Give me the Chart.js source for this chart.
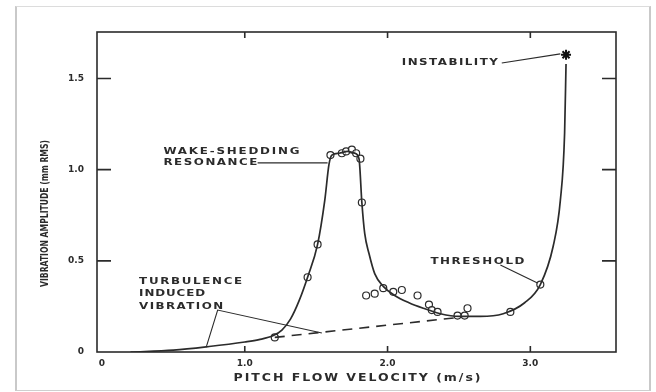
<!DOCTYPE html>
<html>
<head>
<meta charset="utf-8">
<script src="https://cdn.jsdelivr.net/npm/chart.js@4.4.1/dist/chart.umd.min.js"></script>
<style>
  html, body { margin: 0; padding: 0; background: #fff; }
  #wrap { position: relative; width: 656px; height: 392px; overflow: hidden; }
  #chart { position: absolute; left: 0; top: 0; filter: blur(0.45px); }
  #frame {
    position: absolute; left: 15px; top: 6px; width: 632px; height: 383px;
    border-left: 2px solid #c9c9c9; border-right: 2px solid #c9c9c9;
    border-top: 1px solid #dcdcdc; border-bottom: 1px solid #cfcfcf;
    pointer-events: none;
  }
</style>
</head>
<body>
<div id="wrap">
  <canvas id="chart" width="656" height="392"></canvas>
  <div id="frame"></div>
</div>
<script>
// values
const xTicks = [0, 1, 2, 3];
const xTickLabels = ['0', '1.0', '2.0', '3.0'];
const yTicks = [0, 0.5, 1.0, 1.5];
const yTickLabels = ['0', '0.5', '1.0', '1.5'];

// fitted curve (solid)
const curveX = [0.2, 0.5, 0.75, 1.0, 1.1, 1.2, 1.26, 1.32, 1.38, 1.44, 1.51, 1.56, 1.59, 1.61, 1.66, 1.72, 1.77, 1.80, 1.82, 1.84, 1.87, 1.91, 1.97, 2.05, 2.15, 2.25, 2.37, 2.5, 2.65, 2.81, 2.96, 3.07, 3.16, 3.21, 3.24, 3.25];
const curveY = [0, 0.01, 0.03, 0.055, 0.068, 0.09, 0.12, 0.18, 0.28, 0.41, 0.59, 0.83, 1.03, 1.08, 1.09, 1.10, 1.09, 1.06, 0.82, 0.65, 0.54, 0.43, 0.36, 0.31, 0.27, 0.24, 0.21, 0.195, 0.195, 0.21, 0.27, 0.37, 0.58, 0.83, 1.2, 1.58];

// measured points (open circles)
const pointX = [1.21, 1.44, 1.51, 1.60, 1.68, 1.71, 1.75, 1.78, 1.81, 1.82, 1.85, 1.91, 1.97, 2.04, 2.10, 2.21, 2.29, 2.31, 2.35, 2.49, 2.54, 2.56, 2.86, 3.07];
const pointY = [0.08, 0.41, 0.59, 1.08, 1.09, 1.10, 1.11, 1.09, 1.06, 0.82, 0.31, 0.32, 0.35, 0.33, 0.34, 0.31, 0.26, 0.23, 0.22, 0.20, 0.20, 0.24, 0.22, 0.37];

// turbulence induced level (dashed)
const dashX = [1.21, 2.5];
const dashY = [0.08, 0.19];

// instability point
const starX = [3.25];
const starY = [1.63];

const ink = '#2b2b2b';
const zip = (xs, ys) => xs.map((v, i) => ({ x: v, y: ys[i] }));

// draws text stretched a bit wide, then letter-spaced to fill width w
function spaced(ctx, text, x, y, w, stretch = 1.25) {
  ctx.letterSpacing = '0px';
  const n = ctx.measureText(text).width;
  ctx.save();
  ctx.translate(x, y);
  if (n * stretch > w) {
    ctx.scale(w / n, 1);
  } else {
    ctx.scale(stretch, 1);
    ctx.letterSpacing = ((w - n * stretch) / stretch / (text.length - 1)) + 'px';
  }
  ctx.fillText(text, 0, 0);
  ctx.restore();
  ctx.letterSpacing = '0px';
}

const notes = {
  id: 'notes',
  afterDraw(chart) {
    const { ctx, chartArea: a, scales: { x, y } } = chart;
    ctx.save();
    ctx.strokeStyle = ink;
    ctx.fillStyle = ink;

    // plot frame with inward ticks on all four sides
    ctx.lineWidth = 1.6;
    ctx.strokeRect(a.left, a.top, a.right - a.left, a.bottom - a.top);
    ctx.beginPath();
    xTicks.slice(1).forEach(v => {
      const px = x.getPixelForValue(v);
      ctx.moveTo(px, a.bottom); ctx.lineTo(px, a.bottom - 6);
      ctx.moveTo(px, a.top); ctx.lineTo(px, a.top + 6);
    });
    yTicks.slice(1).forEach(v => {
      const py = y.getPixelForValue(v);
      ctx.moveTo(a.left, py); ctx.lineTo(a.left + 14, py);
      ctx.moveTo(a.right, py); ctx.lineTo(a.right - 14, py);
    });
    ctx.stroke();

    // leader lines
    const leaders = [
      [[2.80, 1.585], [3.21, 1.635]],
      [[1.09, 1.037], [1.58, 1.037]],
      [[2.79, 0.477], [3.05, 0.378]],
      [[0.73, 0.027], [0.81, 0.23], [1.54, 0.104]]
    ];
    ctx.lineWidth = 1.1;
    leaders.forEach(pts => {
      ctx.beginPath();
      pts.forEach((p, i) => {
        const px = x.getPixelForValue(p[0]), py = y.getPixelForValue(p[1]);
        i ? ctx.lineTo(px, py) : ctx.moveTo(px, py);
      });
      ctx.stroke();
    });

    // callout texts
    const labels = [
      { text: 'INSTABILITY', x: 2.10, y: 1.585, w: 96 },
      { text: 'WAKE-SHEDDING', x: 0.43, y: 1.097, w: 136 },
      { text: 'RESONANCE', x: 0.43, y: 1.037, w: 94 },
      { text: 'THRESHOLD', x: 2.30, y: 0.494, w: 94 },
      { text: 'TURBULENCE', x: 0.26, y: 0.384, w: 103 },
      { text: 'INDUCED', x: 0.26, y: 0.318, w: 66 },
      { text: 'VIBRATION', x: 0.26, y: 0.252, w: 84 }
    ];
    ctx.font = 'bold 9.5px "DejaVu Sans"';
    ctx.textBaseline = 'middle';
    ctx.textAlign = 'left';
    labels.forEach(l => {
      spaced(ctx, l.text, x.getPixelForValue(l.x), y.getPixelForValue(l.y), l.w);
    });

    // axis titles
    ctx.font = 'bold 10px "DejaVu Sans"';
    const cx = (a.left + a.right) / 2 + 1;
    spaced(ctx, 'PITCH FLOW VELOCITY (m/s)', cx - 124, 378, 247);
    ctx.save();
    ctx.translate(45, 213);
    ctx.rotate(-Math.PI / 2);
    spaced(ctx, 'VIBRATION AMPLITUDE (mm RMS)', -74, 0, 147);
    ctx.restore();

    ctx.restore();
  }
};

new Chart(document.getElementById('chart').getContext('2d'), {
  type: 'scatter',
  data: {
    datasets: [
      {
        type: 'line',
        data: zip(curveX, curveY),
        borderColor: ink,
        borderWidth: 1.7,
        pointRadius: 0,
        cubicInterpolationMode: 'monotone',
        fill: false
      },
      {
        type: 'line',
        data: zip(dashX, dashY),
        borderColor: ink,
        borderWidth: 1.6,
        borderDash: [10, 7],
        pointRadius: 0,
        fill: false
      },
      {
        data: zip(pointX, pointY),
        pointStyle: 'circle',
        pointRadius: 3.5,
        pointBorderWidth: 1.2,
        pointBorderColor: ink,
        pointBackgroundColor: 'rgba(255,255,255,0.6)',
        showLine: false
      },
      {
        data: zip(starX, starY),
        pointStyle: 'star',
        pointRadius: 5,
        pointBorderWidth: 2,
        pointBorderColor: '#111',
        showLine: false
      }
    ]
  },
  options: {
    responsive: false,
    devicePixelRatio: 1,
    animation: false,
    layout: { padding: { top: 32, right: 40, bottom: 0, left: 0 } },
    plugins: { legend: { display: false }, tooltip: { enabled: false } },
    scales: {
      x: {
        type: 'linear',
        min: -0.035,
        max: 3.6,
        grid: { display: false, drawTicks: false },
        border: { display: false },
        afterBuildTicks: s => { s.ticks = xTicks.map(v => ({ value: v })); },
        afterFit: s => { s.height = 40; },
        ticks: {
          padding: 6,
          color: ink,
          font: { family: 'DejaVu Sans', size: 9, weight: 'bold' },
          callback: (v, i) => xTickLabels[i]
        }
      },
      y: {
        type: 'linear',
        min: 0,
        max: 1.755,
        grid: { display: false, drawTicks: false },
        border: { display: false },
        afterBuildTicks: s => { s.ticks = yTicks.map(v => ({ value: v })); },
        afterFit: s => { s.width = 97; },
        ticks: {
          padding: 13,
          color: ink,
          font: { family: 'DejaVu Sans', size: 9, weight: 'bold' },
          callback: (v, i) => yTickLabels[i]
        }
      }
    }
  },
  plugins: [notes]
});
</script>
</body>
</html>
